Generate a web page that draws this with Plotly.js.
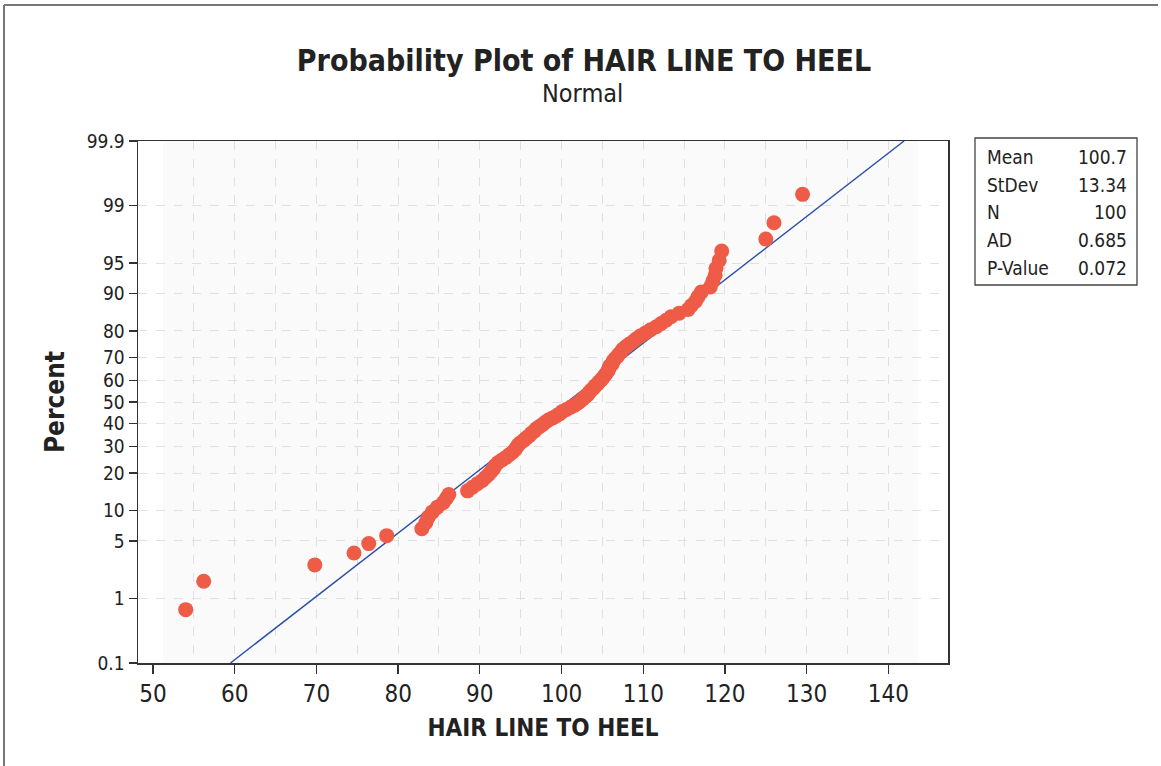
<!DOCTYPE html>
<html><head><meta charset="utf-8">
<script src="https://cdn.plot.ly/plotly-3.0.1.min.js"></script>
<style>html,body{margin:0;padding:0;background:#fff}#chart{width:1161px;height:766px}</style>
</head><body><div id="chart"></div>
<script>
const hairLineToHeel = [
  54.0, 56.2, 69.8, 74.6, 76.4, 78.6,
  82.9, 83.4, 83.7, 84.2, 84.8, 85.5, 85.9, 86.2,
  88.5, 89.1, 89.7, 90.3, 90.7, 91.1, 91.4, 91.7, 91.9, 92.2,
  92.7, 93.2, 93.6, 94.0, 94.3, 94.5, 94.7, 95.0, 95.4, 95.7,
  96.1, 96.3, 96.7, 96.9, 97.3, 97.7, 98.0, 98.4, 98.9, 99.4,
  99.8, 100.1, 100.6, 101.1, 101.6, 102.0, 102.3, 102.6, 102.9, 103.2,
  103.4, 103.6, 103.9, 104.1, 104.4, 104.6, 104.9, 105.1, 105.3, 105.5,
  105.7, 105.8, 105.9, 106.2, 106.3, 106.5, 106.8, 107.0, 107.3, 107.5,
  107.9, 108.3, 108.8, 109.2, 109.7, 110.3, 110.9, 111.6, 112.2, 112.8,
  113.4, 114.4, 115.5, 115.9, 116.4, 116.7, 117.1, 118.2, 118.5, 118.8,
  118.9, 119.3, 119.6, 125.0, 126.0, 129.5
];
const percentTicks = [0.1, 1, 5, 10, 20, 30, 40, 50, 60, 70, 80, 90, 95, 99, 99.9];
const percentTickLabels = ['0.1','1','5','10','20','30','40','50','60','70','80','90','95','99','99.9'];
const xTicks = [50, 60, 70, 80, 90, 100, 110, 120, 130, 140];
const statLabels = ['Mean', 'StDev', 'N', 'AD', 'P-Value'];
const statValues = ['100.7', '13.34', '100', '0.685', '0.072'];
const fitMean = 100.7;
const fitStDev = 13.34;

// inverse standard normal CDF (Acklam)
function invNorm(p) {
  const a = [-3.969683028665376e+01, 2.209460984245205e+02, -2.759285104469687e+02, 1.383577518672690e+02, -3.066479806614716e+01, 2.506628277459239e+00];
  const b = [-5.447609879822406e+01, 1.615858368580409e+02, -1.556989798598866e+02, 6.680131188771972e+01, -1.328068155288572e+01];
  const c = [-7.784894002430293e-03, -3.223964580411365e-01, -2.400758277161838e+00, -2.549732539343734e+00, 4.374664141464968e+00, 2.938163982698783e+00];
  const d = [7.784695709041462e-03, 3.224671290700398e-01, 2.445134137142996e+00, 3.754408661907416e+00];
  const pl = 0.02425, ph = 1 - pl;
  let q, r;
  if (p < pl) { q = Math.sqrt(-2 * Math.log(p)); return (((((c[0]*q+c[1])*q+c[2])*q+c[3])*q+c[4])*q+c[5]) / ((((d[0]*q+d[1])*q+d[2])*q+d[3])*q+1); }
  if (p <= ph) { q = p - 0.5; r = q*q; return (((((a[0]*r+a[1])*r+a[2])*r+a[3])*r+a[4])*r+a[5])*q / (((((b[0]*r+b[1])*r+b[2])*r+b[3])*r+b[4])*r+1); }
  q = Math.sqrt(-2 * Math.log(1 - p)); return -(((((c[0]*q+c[1])*q+c[2])*q+c[3])*q+c[4])*q+c[5]) / ((((d[0]*q+d[1])*q+d[2])*q+d[3])*q+1);
}

const n = hairLineToHeel.length;
// median-rank plotting positions, shown on the normal-probability scale
const zPts = hairLineToHeel.map((v, i) => invNorm((i + 1 - 0.3) / (n + 0.4)));
const zLo = invNorm(percentTicks[0] / 100);
const zHi = invNorm(percentTicks[percentTicks.length - 1] / 100);
const fitX = [fitMean + fitStDev * zLo, fitMean + fitStDev * zHi];

const gridX = [];
for (let v = 55; v <= 140; v += 5) gridX.push(v);

const FONT = 'Tahoma, "DejaVu Sans Condensed", "DejaVu Sans", sans-serif';
const L = 138, R = 948, T = 141, B = 663, W = 1161, H = 766;
const px = x => (x - L) / (R - L);
const py = y => (B - y) / (B - T);

const annotations = [
  {text: 'Normal', xref: 'paper', yref: 'paper', x: px(582), y: py(94), showarrow: false,
   font: {family: FONT, size: 25, color: '#222'}, xanchor: 'center', yanchor: 'middle'}
];
statLabels.forEach((s, i) => {
  const yy = py(157 + i * 27.7);
  annotations.push({text: s, xref: 'paper', yref: 'paper', x: px(985), y: yy, showarrow: false,
    xanchor: 'left', yanchor: 'middle', font: {family: FONT, size: 19, color: '#222'}});
  annotations.push({text: statValues[i], xref: 'paper', yref: 'paper', x: px(1129), y: yy, showarrow: false,
    xanchor: 'right', yanchor: 'middle', font: {family: FONT, size: 19, color: '#222'}});
});

const shapes = [
  {type: 'rect', xref: 'x', yref: 'paper', x0: 51.2, x1: 143.6, y0: 0, y1: 1, layer: 'below',
   fillcolor: '#fafafa', line: {width: 0}},
  {type: 'rect', xref: 'paper', yref: 'paper', x0: px(975), x1: px(1137), y0: py(285), y1: py(138),
   line: {color: '#444', width: 1.3}, fillcolor: 'rgba(0,0,0,0)'},
  {type: 'line', xref: 'paper', yref: 'paper', x0: px(4), x1: px(1158), y0: py(5), y1: py(5), line: {color: '#777', width: 2}},
  {type: 'line', xref: 'paper', yref: 'paper', x0: px(4), x1: px(4), y0: py(5), y1: py(766), line: {color: '#777', width: 2}}
];

const traces = [
  {type: 'scatter', mode: 'lines', x: fitX, y: [zLo, zHi], line: {color: '#2b4ea6', width: 1.4}, hoverinfo: 'skip'},
  {type: 'scatter', mode: 'markers', x: hairLineToHeel, y: zPts,
   marker: {color: '#ee5b46', size: 15, line: {width: 0}}}
];

const layout = {
  width: W, height: H,
  margin: {l: L, r: W - R, t: T, b: H - B, pad: 0},
  paper_bgcolor: '#ffffff', plot_bgcolor: '#ffffff',
  showlegend: false,
  title: {text: '<b>Probability Plot of HAIR LINE TO HEEL</b>', xref: 'container', yref: 'container',
    x: 584 / W, y: 1 - 60 / H, xanchor: 'center', yanchor: 'middle',
    font: {family: FONT, size: 30, color: '#222'}},
  xaxis: {
    range: [48.16, 147.3], tickvals: xTicks, ticktext: xTicks.map(String),
    showline: true, mirror: true, linecolor: '#333', linewidth: 1.5,
    ticks: 'outside', ticklen: 9, tickcolor: '#333', tickwidth: 1.3,
    tickfont: {family: FONT, size: 24, color: '#222'},
    showgrid: false, zeroline: false,
    minor: {tickvals: gridX, showgrid: true, gridcolor: '#e0e0e0', griddash: 'dash', gridwidth: 1, ticks: ''},
    title: {text: '<b>HAIR LINE TO HEEL</b>', font: {family: FONT, size: 24, color: '#222'}, standoff: 12}
  },
  yaxis: {
    range: [zLo, zHi],
    tickvals: percentTicks.map(p => invNorm(p / 100)), ticktext: percentTickLabels,
    showline: true, mirror: true, linecolor: '#333', linewidth: 1.5,
    ticks: 'outside', ticklen: 8, tickcolor: '#333', tickwidth: 1.3,
    tickfont: {family: FONT, size: 19, color: '#222'},
    showgrid: true, gridcolor: '#e0e0e0', griddash: 'dash', gridwidth: 1, zeroline: false,
    title: {text: '<b>Percent</b>', font: {family: FONT, size: 26, color: '#222'}, standoff: 14}
  },
  annotations: annotations,
  shapes: shapes
};

Plotly.newPlot('chart', traces, layout, {displayModeBar: false, staticPlot: true});
</script>
</body></html>
